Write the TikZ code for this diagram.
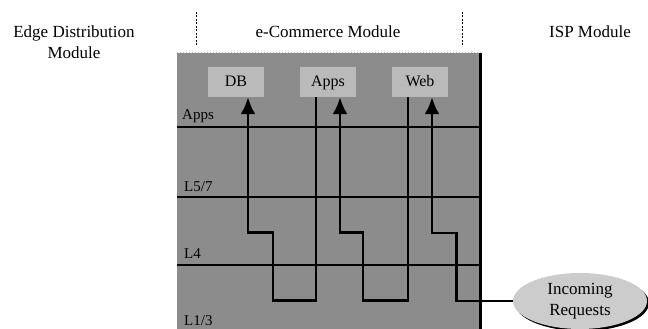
\documentclass[tikz,border=0pt]{standalone}
\usepackage{fontspec}
\setmainfont{Liberation Serif}
\usetikzlibrary{arrows.meta,shapes.geometric,shadows}
\begin{document}
\begin{tikzpicture}[x=1pt, y=-1pt,
  txt/.style={font=\fontsize{17}{21}\selectfont, inner sep=0pt},
  layertxt/.style={font=\fontsize{15}{18}\selectfont, inner sep=0pt, anchor=west},
  srv/.style={fill=black!27, minimum width=56pt, minimum height=30pt, inner sep=0pt,
    text height=11pt, text depth=3pt, font=\fontsize{16}{19}\selectfont},
  flow/.style={line width=2.8pt, line join=miter, -{Latex[length=17pt,width=15pt]}}]
\useasboundingbox (0,0) rectangle (648,329);
% Kopf
\node[txt, align=center] (edge) at (74,42) {Edge Distribution\\Module};
\node[txt] (ecom) at (328,32) {e-Commerce Module};
\node[txt] (isp) at (590,32) {ISP Module};
\draw[line width=1pt, dash pattern=on 2pt off 1.5pt] (196,12) -- (196,45);
\draw[line width=1pt, dash pattern=on 2pt off 1.5pt] (462,12) -- (462,45);
% Modul
\fill[black!45] (177,53) rectangle (481,332);
\draw[black!25, line width=1pt, dotted] (177,53) -- (481,53);
\draw[line width=3pt] (480,53) -- (480,332);
% Schichten
\draw[line width=1.8pt] (177,127) -- (480,127);
\draw[line width=1.8pt] (177,197) -- (480,197);
\draw[line width=1.4pt] (177,265) -- (480,265);
\node[layertxt] (lapps) at (182,116) {Apps};
\node[layertxt] (l57) at (184,187) {L5/7};
\node[layertxt] (l4) at (184,254) {L4};
\node[layertxt] (l13) at (184,321) {L1/3};
% Server
\node[srv] (db) at (236,82) {DB};
\node[srv] (apps) at (328,82) {Apps};
\node[srv] (web) at (420,82) {Web};
\node[ellipse, fill=black!20, minimum width=134pt, minimum height=56pt, inner sep=0pt,
  drop shadow={shadow xshift=2pt, shadow yshift=-2pt, fill=black, opacity=1},
  font=\fontsize{17}{21}\selectfont, align=center] (req) at (580,301) {Incoming\\Requests};
% Anfragen
\draw[flow] (req.west) -- ++(-56,0) -- ++(0,-68) -| ([xshift=12pt]web.south);
\draw[flow] ([xshift=-12pt]web.south) -- ++(0,203) -- ++(-45,0) -- ++(0,-68) -| ([xshift=12pt]apps.south);
\draw[flow] ([xshift=-12pt]apps.south) -- ++(0,203) -- ++(-43,0) -- ++(0,-68) -| ([xshift=12pt]db.south);
\end{tikzpicture}
\end{document}
